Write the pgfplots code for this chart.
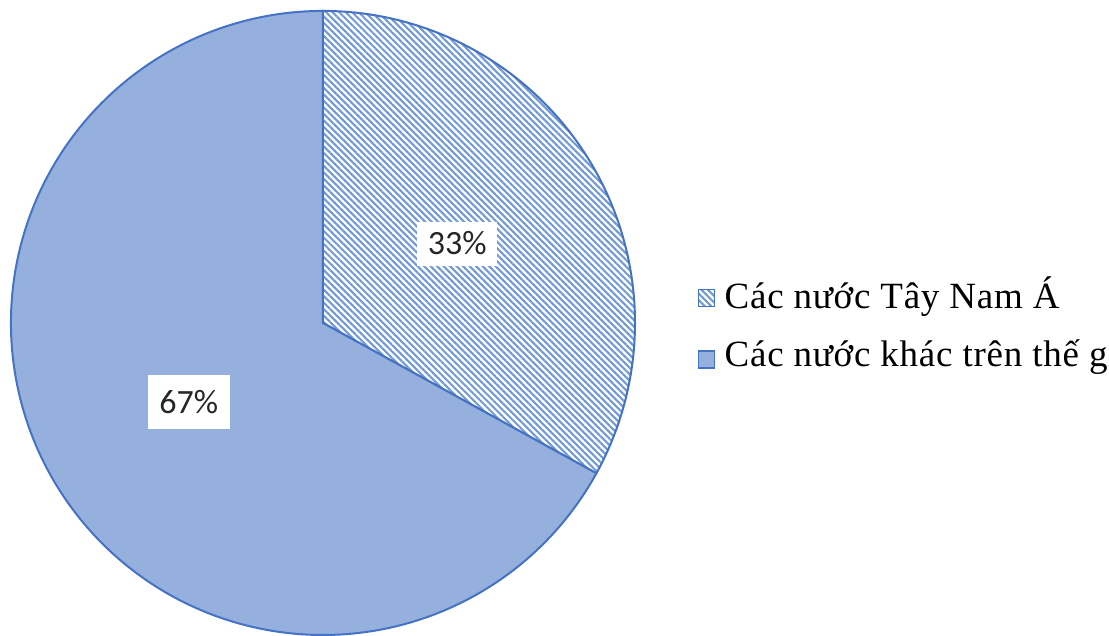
\documentclass[border=0pt]{standalone}
\usepackage{pgfplots}
\pgfplotsset{compat=1.18}
\usepackage{pgfplotstable}
\usetikzlibrary{patterns.meta}
\usepackage{fontspec}
\setmainfont{Liberation Serif}[LetterSpace=2]
\newfontfamily\calibri{Carlito}
\definecolor{pieblue}{HTML}{4472C4}
\definecolor{hatch}{HTML}{7099D6}
\definecolor{checker}{RGB}{150,176,222}

\pgfplotstableread{
share
33
67
}\piedata
\pgfplotstablegetelem{0}{share}\of\piedata \let\sa\pgfplotsretval
\pgfplotstablegetelem{1}{share}\of\piedata \let\sb\pgfplotsretval

\begin{document}
\begin{tikzpicture}
\begin{axis}[x=156pt, y=156pt, xmin=-1.035, xmax=2.519, ymin=-1.003, ymax=1.035,
  hide axis, clip=false, scale only axis,
  legend style={at={(axis cs:1.199,0.157)}, anchor=north west, draw=none, fill=none,
    font=\fontsize{18.5}{21}\selectfont, row sep=12.5pt, column sep=4pt, inner sep=0pt,
    nodes={inner sep=1pt}},
  legend cell align=left,
  legend image code/.code={\draw[#1, line width=0.6pt] (0pt,-6.5pt) rectangle (8pt,2pt);}
]
\pgfmathsetmacro{\aend}{90-\sa*3.6}
\addplot[draw=pieblue, line width=1pt,
  pattern={Lines[angle=-45,distance=2.3pt,line width=1.05pt]}, pattern color=hatch,
  domain=90:\aend, samples=200] ({cos(x)},{sin(x)}) -- (axis cs:0,0) -- cycle;
\addlegendentry{Các nước Tây Nam Á}
\addplot[draw=pieblue, line width=1pt, fill=checker,
  domain=\aend:-270, samples=300] ({cos(x)},{sin(x)}) -- (axis cs:0,0) -- cycle;
\addlegendentry{Các nước khác trên thế giới}
\pgfmathsetmacro{\ma}{90-\sa*1.8}
\pgfmathsetmacro{\mb}{\aend-\sb*1.8}
\node[fill=white, font=\calibri\fontsize{17}{20}\selectfont, text=black!85,
  minimum width=40pt, minimum height=22pt, inner sep=0pt]
  at (axis cs:{0.5*cos(\ma)},{0.5*sin(\ma)}) {\sa\%};
\node[fill=white, font=\calibri\fontsize{17}{20}\selectfont, text=black!85,
  minimum width=41pt, minimum height=27pt, inner sep=0pt]
  at (axis cs:{0.5*cos(\mb)},{0.5*sin(\mb)}) {\sb\%};
\coordinate (bl) at (axis cs:-1.035,-1.003);
\coordinate (tr) at (axis cs:2.519,1.035);
\end{axis}
\pgfresetboundingbox
\useasboundingbox (bl) rectangle (tr);
\end{tikzpicture}
\end{document}
